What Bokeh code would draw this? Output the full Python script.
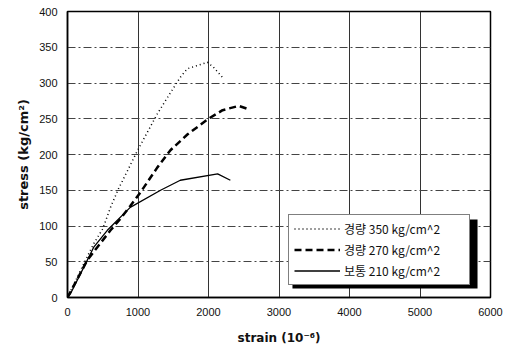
from bokeh.plotting import figure
from bokeh.models import Legend, LegendItem, BoxAnnotation, Range1d, FixedTicker
from bokeh.embed import file_html
from bokeh.resources import INLINE

# Data
strain_350 = [0, 255, 370, 500, 610, 723, 865, 990, 1275, 1420, 1600, 1700, 1985, 2070, 2215]
stress_350 = [0, 52, 75, 96, 126, 152, 180, 205, 257, 280, 308, 320, 329, 322, 306]

strain_270 = [0, 280, 420, 610, 750, 890, 1035, 1275, 1460, 1700, 2000, 2200, 2430, 2550]
stress_270 = [0, 52, 70, 94, 110, 128, 147, 182, 206, 228, 250, 262, 268, 264]

strain_210 = [0, 40, 255, 370, 565, 890, 1320, 1600, 2130, 2310]
stress_210 = [0, 5, 47, 70, 94, 126, 150, 164, 173, 164]

labels = ["경량 350 kg/cm^2", "경량 270 kg/cm^2", "보통 210 kg/cm^2"]
x_ticks = [0, 1000, 2000, 3000, 4000, 5000, 6000]
y_ticks = [0, 50, 100, 150, 200, 250, 300, 350, 400]

p = figure(width=510, height=350, output_backend="svg", toolbar_location=None,
           x_range=Range1d(0, 6000), y_range=Range1d(0, 400),
           min_border_left=67, min_border_right=20, min_border_top=11, min_border_bottom=53)

p.outline_line_color = "black"
p.outline_line_width = 1.5
p.background_fill_color = "white"

p.xaxis.ticker = FixedTicker(ticks=x_ticks)
p.yaxis.ticker = FixedTicker(ticks=y_ticks)
for ax in (p.xaxis[0], p.yaxis[0]):
    ax.major_tick_out = 0
    ax.major_tick_in = 0
    ax.minor_tick_out = 0
    ax.minor_tick_in = 0
    ax.axis_line_color = "black"
    ax.axis_line_width = 1.5
    ax.major_label_text_font = "Liberation Sans"
    ax.major_label_text_font_size = "11px"
    ax.major_label_text_color = "#111111"
    ax.axis_label_text_font = "DejaVu Sans"
    ax.axis_label_text_font_style = "bold"
    ax.axis_label_text_color = "#111111"

p.xaxis.axis_label_text_font_size = "12px"
p.yaxis.axis_label_text_font_size = "13px"
p.xaxis.axis_label = "strain (10⁻⁶)"
p.yaxis.axis_label = "stress (kg/cm²)"
p.xaxis.major_label_standoff = 10
p.yaxis.major_label_standoff = 10
p.xaxis.axis_label_standoff = 12
p.yaxis.axis_label_standoff = 5

p.xgrid.grid_line_color = "#333333"
p.xgrid.grid_line_width = 1
p.ygrid.grid_line_color = "#444444"
p.ygrid.grid_line_dash = "8 3 2 3"
p.ygrid.grid_line_width = 1

r1 = p.line(strain_350, stress_350, line_color="black", line_width=1.5, line_dash="1 3")
r2 = p.line(strain_270, stress_270, line_color="black", line_width=2.5, line_dash="7 4")
r3 = p.line(strain_210, stress_210, line_color="black", line_width=1.3)

shadow = BoxAnnotation(left=3191, right=5816, bottom=12.6, top=109,
                       fill_color="black", fill_alpha=1, line_color=None)
p.add_layout(shadow)

legend = Legend(items=[LegendItem(label=labels[0], renderers=[r1]),
                       LegendItem(label=labels[1], renderers=[r2]),
                       LegendItem(label=labels[2], renderers=[r3])],
                location=(221, 12))
legend.label_text_font = "Noto Sans CJK KR"
legend.label_text_font_size = "12px"
legend.label_text_color = "#111111"
legend.glyph_width = 46
legend.glyph_height = 15
legend.label_height = 15
legend.label_width = 120
legend.label_standoff = 4
legend.spacing = 4
legend.padding = 5
legend.margin = 0
legend.border_line_color = "black"
legend.border_line_width = 1
legend.background_fill_alpha = 1
p.add_layout(legend)

open("out.html", "w").write(file_html(p, INLINE))
